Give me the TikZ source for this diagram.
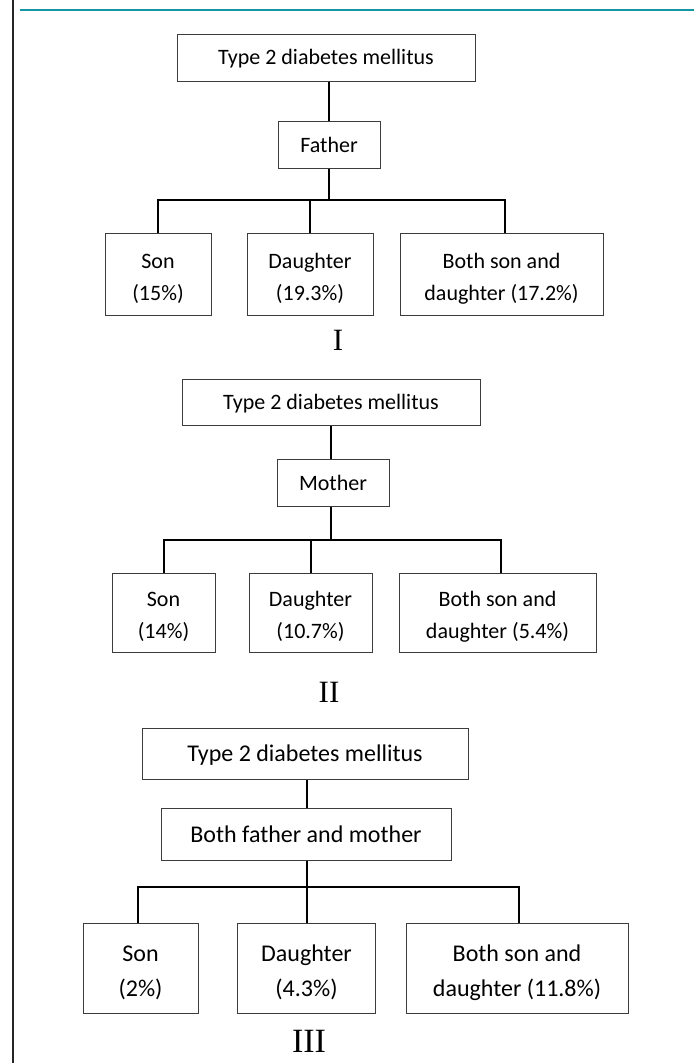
\documentclass[tikz,border=0pt]{standalone}
\usepackage{fontspec}
\setmainfont{Carlito}
\newfontfamily\romanfont{Liberation Serif}
\definecolor{boxc}{RGB}{60,60,60}
\definecolor{tealc}{RGB}{20,150,165}
\begin{document}
\begin{tikzpicture}[x=1pt,y=-1pt,
  box/.style={draw=boxc, line width=1pt, inner sep=0pt, fill=white},
  txt/.style={inner sep=0pt, align=center},
  fA/.style={font=\fontsize{22}{32}\selectfont},
  fB/.style={font=\fontsize{24}{35}\selectfont},
  conn/.style={line width=2pt, black},
  numeral/.style={inner sep=0pt, anchor=base, font=\romanfont\fontsize{31}{31}\selectfont}]
\useasboundingbox (0,0) rectangle (694,1063);
\fill[white] (0,0) rectangle (694,1063);
% frame lines
\coordinate (tl) at (20,10);
\coordinate (tr) at (694,10);
\draw[tealc, line width=1.6pt] (tl) -- (tr);
\coordinate (lt) at (13,0);
\coordinate (lb) at (13,1063);
\draw[black!85, line width=1.5pt] (lt) -- (lb);

% ---------- Panel I ----------
\node[box, minimum width=298pt, minimum height=47pt,
  label={[txt,fA,yshift=-1.5pt]center:Type 2 diabetes mellitus}] (T1) at (326,57.5) {};
\node[box, minimum width=102pt, minimum height=47pt,
  label={[txt,fA]center:Father}] (F1) at (329,144.5) {};
\node[box, minimum width=106pt, minimum height=82pt,
  label={[txt,fA,yshift=-4.5pt]center:{Son\\(15\%)}}] (S1) at (158,274) {};
\node[box, minimum width=126pt, minimum height=82pt,
  label={[txt,fA,yshift=-4.5pt]center:{Daughter\\(19.3\%)}}] (D1) at (310,274) {};
\node[box, minimum width=203pt, minimum height=82pt,
  label={[txt,fA,yshift=-4.5pt]center:{Both son and\\daughter (17.2\%)}}] (B1) at (501.5,274) {};
\coordinate (j1) at (329,200);
\draw[conn] (F1.north) -- (F1.north |- T1.south);
\draw[conn] (F1.south) -- (j1);
\draw[conn] (S1.north) |- (j1);
\draw[conn] (D1.north) |- (j1);
\draw[conn] ([xshift=3.5pt]B1.north) |- (j1);
\node[numeral] (L1) at (338,350) {I};

% ---------- Panel II ----------
\node[box, minimum width=298pt, minimum height=46pt,
  label={[txt,fA,yshift=-2pt]center:Type 2 diabetes mellitus}] (T2) at (331,402) {};
\node[box, minimum width=112pt, minimum height=47pt,
  label={[txt,fA]center:Mother}] (M2) at (333,482.5) {};
\node[box, minimum width=103pt, minimum height=79pt,
  label={[txt,fA,yshift=-4pt]center:{Son\\(14\%)}}] (S2) at (163.5,612.5) {};
\node[box, minimum width=123pt, minimum height=79pt,
  label={[txt,fA,yshift=-4pt]center:{Daughter\\(10.7\%)}}] (D2) at (310.5,612.5) {};
\node[box, minimum width=197pt, minimum height=79pt,
  label={[txt,fA,yshift=-4pt]center:{Both son and\\daughter (5.4\%)}}] (B2) at (497.5,612.5) {};
\coordinate (j2) at (331,540);
\draw[conn] ([xshift=-2pt]M2.north) -- ([xshift=-2pt]M2.north |- T2.south);
\draw[conn] ([xshift=-2pt]M2.south) -- (j2);
\draw[conn] (S2.north) |- (j2);
\draw[conn] (D2.north) |- (j2);
\draw[conn] ([xshift=3.5pt]B2.north) |- (j2);
\node[numeral] (L2) at (329,702) {II};

% ---------- Panel III ----------
\node[box, minimum width=326pt, minimum height=51pt,
  label={[txt,fB,yshift=-2pt]center:Type 2 diabetes mellitus}] (T3) at (305,753.5) {};
\node[box, minimum width=290pt, minimum height=52pt,
  label={[txt,fB]center:Both father and mother}] (P3) at (306,834) {};
\node[box, minimum width=115pt, minimum height=90pt,
  label={[txt,fB,yshift=-4.5pt]center:{Son\\(2\%)}}] (S3) at (140.5,968) {};
\node[box, minimum width=138pt, minimum height=90pt,
  label={[txt,fB,yshift=-4.5pt]center:{Daughter\\(4.3\%)}}] (D3) at (306.5,968) {};
\node[box, minimum width=222pt, minimum height=90pt,
  label={[txt,fB,yshift=-4.5pt]center:{Both son and\\daughter (11.8\%)}}] (B3) at (517,968) {};
\coordinate (j3) at (307,887);
\draw[conn] ([xshift=1pt]P3.north) -- ([xshift=1pt]P3.north |- T3.south);
\draw[conn] ([xshift=1pt]P3.south) -- (j3);
\draw[conn, line width=2.4pt] ([xshift=-2.5pt]S3.north) |- (j3);
\draw[conn] ([xshift=0.5pt]D3.north) |- (j3);
\draw[conn, line width=2.4pt] ([xshift=2pt]B3.north) |- (j3);
\node[numeral, font=\romanfont\fontsize{34}{34}\selectfont] (L3) at (309,1052) {III};
\end{tikzpicture}
\end{document}
